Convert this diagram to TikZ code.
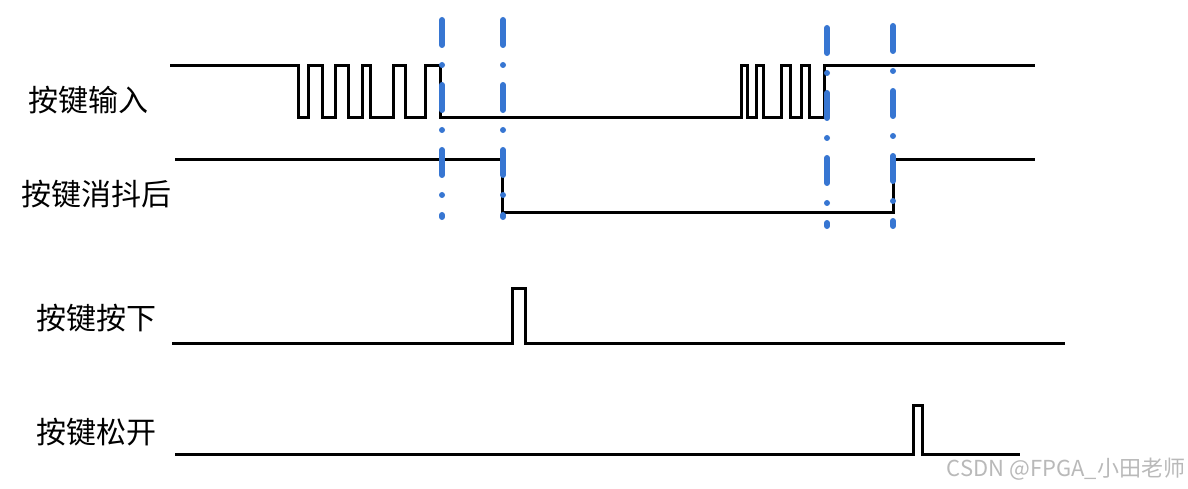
\documentclass[tikz,border=0pt]{standalone}
\usepackage{fontspec}
\newfontfamily\cjk{Noto Sans CJK SC}
\definecolor{cutblue}{RGB}{55,118,210}
\begin{document}
\begin{tikzpicture}[x=1pt,y=-1pt,
    wave/.style={line width=3pt,black},
    cut/.style={line width=6pt,cutblue,line cap=round,
      dash pattern=on 25pt off 20pt on 0pt off 20pt},
    lbl/.style={font=\cjk\fontsize{30}{34}\selectfont,inner sep=0pt}]
  \useasboundingbox (0,0) rectangle (1188,489);
  % waveforms
  \draw[wave] (170,66) -- (298,66) |- (308,118) |- (322,66) |- (335,118)
    |- (348,66) |- (362,118) |- (370,66) |- (393,118) |- (405,66)
    |- (425,118) |- (440,66) |- (741,118) |- (747,66) |- (756,118)
    |- (763,66) |- (781,118) |- (790,66) |- (801,118) |- (809,66)
    |- (824,118) |- (1035,66);
  \draw[wave] (175,160) -| (502,212) -| (893,160) -- (1035,160);
  \draw[wave] (172,343) -| (512,288) -| (525,343) -- (1065,343);
  \draw[wave] (175,454) -| (913,405) -| (922,454) -- (1020,454);
  % sampling instants
  \foreach \x/\a/\b in {442/20/217,503/20/217,827/28/226,893/26/226}
    \draw[cut] (\x,\a) -- (\x,\b);
  \node[lbl] (keyin) at (88,100) {按键输入};
  \node[lbl] (keydb) at (96,194) {按键消抖后};
  \node[lbl] (keydn) at (96,318) {按键按下};
  \node[lbl] (keyup) at (96,432) {按键松开};
  \node[font=\cjk\fontsize{22}{26}\selectfont,text=gray!55,inner sep=0pt]
    (mark) at (1066,469) {CSDN @FPGA\_小田老师};
\end{tikzpicture}
\end{document}
